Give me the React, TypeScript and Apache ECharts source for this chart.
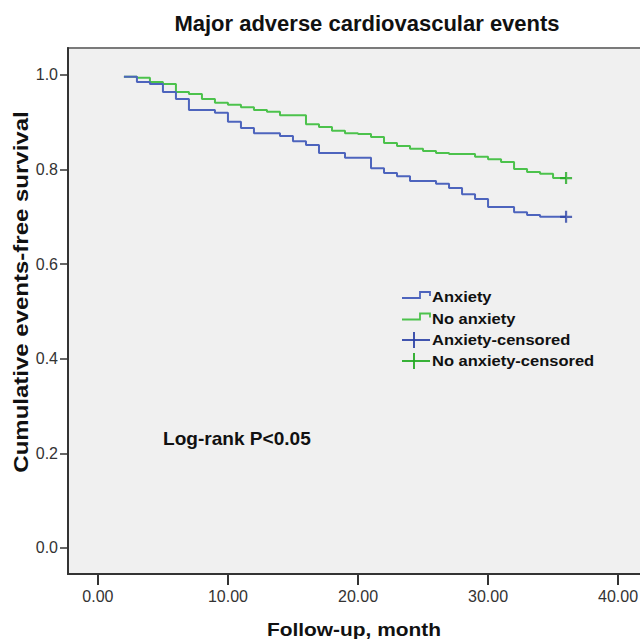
import React, { useEffect, useRef } from "react";
import * as echarts from "echarts";

// Kaplan-Meier step data (months, cumulative events-free survival)
const anxietyTimes = [2, 3, 4, 5, 6, 7, 9, 10, 11, 12, 14, 15, 16, 17, 19, 21, 22, 23, 24, 26, 27, 28, 29, 30, 32, 33, 34, 36];
const anxietySurv = [0.996, 0.985, 0.981, 0.964, 0.949, 0.926, 0.92, 0.901, 0.888, 0.877, 0.871, 0.86, 0.852, 0.835, 0.825, 0.803, 0.793, 0.786, 0.776, 0.77, 0.761, 0.748, 0.738, 0.721, 0.71, 0.704, 0.7, 0.7];

const noAnxietyTimes = [2, 3, 4, 5, 6, 7, 8, 9, 10, 11, 12, 13, 14, 16, 17, 18, 19, 20, 21, 22, 23, 24, 25, 26, 27, 29, 30, 31, 32, 33, 34, 35, 36];
const noAnxietySurv = [0.996, 0.994, 0.985, 0.981, 0.964, 0.96, 0.949, 0.941, 0.937, 0.932, 0.926, 0.922, 0.915, 0.896, 0.89, 0.882, 0.877, 0.875, 0.869, 0.856, 0.85, 0.844, 0.839, 0.835, 0.833, 0.827, 0.822, 0.816, 0.801, 0.795, 0.791, 0.782, 0.782];

const anxietyCensored = [[36, 0.7]];
const noAnxietyCensored = [[36, 0.782]];

const xTicks = [0, 10, 20, 30, 40];
const yTicks = [0, 0.2, 0.4, 0.6, 0.8, 1.0];

const legendNames = ["Anxiety", "No anxiety", "Anxiety-censored", "No anxiety-censored"];

const BLUE = "#4d64bd";
const GREEN = "#4cc24c";
const BLUE_C = "#2c42a6";
const GREEN_C = "#22aa22";
const FONT = "'Liberation Sans', Arial, sans-serif";

const crossPath = "path://M0 5 L10 5 M5 0 L5 10";

export default function App() {
  const ref = useRef<HTMLDivElement>(null);
  useEffect(() => {
    if (!ref.current) return;
    const chart = echarts.init(ref.current, undefined, { renderer: "svg" });
    const zip = (t: number[], s: number[]) => t.map((v, i) => [v, s[i]]);
    const legendRows = [297, 318.5, 340, 361];
    const legendColors = [BLUE, GREEN, BLUE_C, GREEN_C];
    const legendGraphics: any[] = [];
    legendRows.forEach((y, i) => {
      if (i < 2) {
        legendGraphics.push({
          type: "polyline",
          shape: { points: [[402, y + 1], [420, y + 1], [420, y - 5], [430, y - 5], [430, y - 1]] },
          style: { stroke: legendColors[i], lineWidth: 1.8, fill: "none" },
        });
      } else {
        legendGraphics.push({
          type: "line",
          shape: { x1: 402, y1: y, x2: 430, y2: y },
          style: { stroke: legendColors[i], lineWidth: 1.8 },
        });
        legendGraphics.push({
          type: "line",
          shape: { x1: 414, y1: y - 8, x2: 414, y2: y + 8 },
          style: { stroke: legendColors[i], lineWidth: 1.8 },
        });
      }
      legendGraphics.push({
        type: "text",
        x: 432,
        y,
        scaleX: 1.1,
        style: {
          text: legendNames[i],
          font: `bold 15px ${FONT}`,
          fill: "#111",
          textVerticalAlign: "middle",
          textAlign: "left",
        },
      });
    });

    chart.setOption({
      animation: false,
      backgroundColor: "#ffffff",
      title: {
        text: "Major adverse cardiovascular events",
        left: 362,
        top: 7,
        textAlign: "center",
        textStyle: { fontFamily: FONT, fontWeight: "bold", fontSize: 22, color: "#111" },
      },
      grid: {
        left: 68,
        top: 48,
        width: 580,
        height: 526,
        containLabel: false,
        outerBoundsMode: "none",
        show: true,
        backgroundColor: "#f0f0f0",
        borderColor: "#7a7a7a",
        borderWidth: 2,
      },
      xAxis: {
        type: "value",
        min: -2.3,
        max: 42.3,
        splitLine: { show: false },
        axisLine: { show: true, onZero: false, lineStyle: { color: "#333", width: 2 } },
        axisTick: { show: true, customValues: xTicks, length: 11, lineStyle: { color: "#333", width: 2 } },
        axisLabel: {
          customValues: xTicks,
          formatter: (v: number) => v.toFixed(2),
          fontFamily: FONT,
          fontSize: 16,
          color: "#333",
          margin: 14,
        },
      },
      yAxis: {
        type: "value",
        min: -0.055,
        max: 1.057,
        splitLine: { show: false },
        axisLine: { show: true, onZero: false, lineStyle: { color: "#333", width: 2 } },
        axisTick: { show: true, customValues: yTicks, length: 8, lineStyle: { color: "#333", width: 1.5 } },
        axisLabel: {
          customValues: yTicks,
          formatter: (v: number) => v.toFixed(1),
          fontFamily: FONT,
          fontSize: 16,
          color: "#333",
          margin: 10,
        },
      },
      graphic: [
        {
          type: "text",
          x: 21,
          y: 292,
          rotation: Math.PI / 2,
          scaleX: 1.2,
          style: {
            text: "Cumulative events-free survival",
            font: `bold 20px ${FONT}`,
            fill: "#111",
            textAlign: "center",
            textVerticalAlign: "middle",
          },
        },
        {
          type: "text",
          x: 354,
          y: 629,
          scaleX: 1.1,
          style: {
            text: "Follow-up, month",
            font: `bold 19px ${FONT}`,
            fill: "#111",
            textAlign: "center",
            textVerticalAlign: "middle",
          },
        },
        {
          type: "text",
          x: 163,
          y: 439,
          scaleX: 1.06,
          style: {
            text: "Log-rank P<0.05",
            font: `bold 18px ${FONT}`,
            fill: "#111",
            textAlign: "left",
            textVerticalAlign: "middle",
          },
        },
        ...legendGraphics,
      ],
      series: [
        {
          name: "Anxiety",
          type: "line",
          step: "end",
          showSymbol: false,
          data: zip(anxietyTimes, anxietySurv),
          lineStyle: { color: BLUE, width: 2 },
          z: 3,
        },
        {
          name: "No anxiety",
          type: "line",
          step: "end",
          showSymbol: false,
          data: zip(noAnxietyTimes, noAnxietySurv),
          lineStyle: { color: GREEN, width: 2 },
          z: 2,
        },
        {
          name: "Anxiety-censored",
          type: "scatter",
          symbol: crossPath,
          symbolSize: 12,
          data: anxietyCensored,
          itemStyle: { color: "none", borderColor: BLUE_C, borderWidth: 2.2 },
          z: 4,
        },
        {
          name: "No anxiety-censored",
          type: "scatter",
          symbol: crossPath,
          symbolSize: 12,
          data: noAnxietyCensored,
          itemStyle: { color: "none", borderColor: GREEN_C, borderWidth: 2.2 },
          z: 4,
        },
      ],
    });
    return () => chart.dispose();
  }, []);
  return (
    <div
      ref={ref}
      style={{ position: "fixed", left: 0, top: 0, width: 640, height: 639, background: "#fff" }}
    />
  );
}
